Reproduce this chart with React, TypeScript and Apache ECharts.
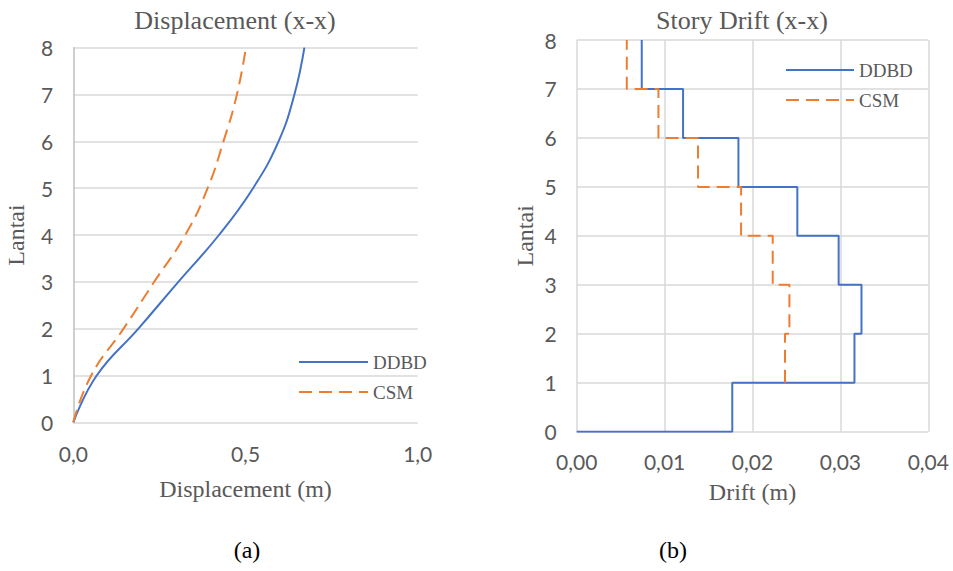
import React, { useEffect, useRef } from "react";
import * as echarts from "echarts";

// Floors (Lantai)
const floors = [0, 1, 2, 3, 4, 5, 6, 7, 8];
// Displacement (m) at each floor
const ddbdDisp = [0, 0.068, 0.189, 0.305, 0.423, 0.522, 0.596, 0.642, 0.671];
const csmDisp = [0, 0.052, 0.146, 0.235, 0.325, 0.39, 0.436, 0.475, 0.501];
// Story drift (m) per story
const ddbdDriftStories = [1, 2, 3, 4, 5, 6, 7, 8];
const ddbdDrift = [0.0177, 0.0316, 0.0324, 0.0298, 0.0251, 0.0184, 0.0121, 0.0074];
const csmDriftStories = [2, 3, 4, 5, 6, 7, 8];
const csmDrift = [0.0237, 0.0242, 0.0223, 0.0187, 0.0138, 0.0093, 0.0057];

const dispXTicks = { min: 0, max: 1, interval: 0.5 };
const driftXTicks = { min: 0, max: 0.04, interval: 0.01 };
const floorTicks = { min: 0, max: 8, interval: 1 };

const BLUE = "#4472C4";
const ORANGE = "#ED7D31";
const GRID = "#d9d9d9";
const TEXT = "#595959";
const SERIF = "'Liberation Serif', 'Times New Roman', serif";
const SANS = "Lato, 'Noto Sans', sans-serif";

function stepPoints(stories: number[], drifts: number[], withBase: boolean) {
  const pts: number[][] = [];
  if (withBase) pts.push([0, stories[0] - 1]);
  stories.forEach((s, i) => {
    pts.push([drifts[i], s - 1]);
    pts.push([drifts[i], s]);
  });
  return pts;
}

export default function App() {
  const ref = useRef<HTMLDivElement>(null);
  useEffect(() => {
    if (!ref.current) return;
    const chart = echarts.init(ref.current, undefined, { renderer: "svg" });
    const yAxisCommon = {
      type: "value" as const,
      ...floorTicks,
      name: "Lantai",
      nameLocation: "middle" as const,
      nameRotate: 90,
      nameTextStyle: { fontFamily: SERIF, fontSize: 24, color: TEXT },
      axisTick: { show: false },
      axisLabel: { fontFamily: SANS, fontSize: 21, color: TEXT, margin: 20 },
      splitLine: { show: true, lineStyle: { color: GRID, width: 1.5 } },
    };
    const legendCommon = {
      orient: "vertical" as const,
      padding: 0,
      itemHeight: 14,
      itemGap: 10,
      selectedMode: false,
      data: ["DDBD", "CSM"],
      itemStyle: { opacity: 0 },
      textStyle: { fontFamily: SERIF, fontSize: 19, lineHeight: 20, color: TEXT },
    };
    chart.setOption({
      animation: false,
      title: [
        {
          text: "Displacement (x-x)",
          left: 235,
          top: 7,
          padding: 0,
          textAlign: "center",
          textStyle: { fontFamily: SERIF, fontSize: 26, fontWeight: "normal", color: TEXT },
        },
        {
          text: "Story Drift (x-x)",
          left: 742,
          top: 7,
          padding: 0,
          textAlign: "center",
          textStyle: { fontFamily: SERIF, fontSize: 26, fontWeight: "normal", color: TEXT },
        },
        {
          text: "(a)",
          left: 247,
          top: 538,
          padding: 0,
          textAlign: "center",
          textStyle: { fontFamily: SERIF, fontSize: 24, fontWeight: "normal", color: "#000" },
        },
        {
          text: "(b)",
          left: 673,
          top: 538,
          padding: 0,
          textAlign: "center",
          textStyle: { fontFamily: SERIF, fontSize: 24, fontWeight: "normal", color: "#000" },
        },
      ],
      legend: [
        { ...legendCommon, left: 298, top: 352, itemWidth: 69 },
        { ...legendCommon, left: 785, top: 60, itemWidth: 68 },
      ],
      grid: [
        { left: 73.3, top: 47.7, width: 344.4, height: 374.6 },
        { left: 576.7, top: 40, width: 351.6, height: 391.7 },
      ],
      xAxis: [
        {
          gridIndex: 0,
          type: "value",
          ...dispXTicks,
          name: "Displacement (m)",
          nameLocation: "middle",
          nameGap: 55,
          nameTextStyle: { fontFamily: SERIF, fontSize: 24, color: TEXT },
          axisLine: { show: false },
          axisTick: { show: false },
          splitLine: { show: false },
          axisLabel: {
            fontFamily: SANS,
            fontSize: 21,
            color: TEXT,
            margin: 21,
            formatter: (v: number) => v.toFixed(1).replace(".", ","),
          },
        },
        {
          gridIndex: 1,
          type: "value",
          ...driftXTicks,
          name: "Drift (m)",
          nameLocation: "middle",
          nameGap: 48,
          nameTextStyle: { fontFamily: SERIF, fontSize: 24, color: TEXT },
          axisLine: { show: false },
          axisTick: { show: false },
          splitLine: { show: true, lineStyle: { color: GRID, width: 1.5 } },
          axisLabel: {
            fontFamily: SANS,
            fontSize: 21,
            color: TEXT,
            margin: 19,
            formatter: (v: number) => v.toFixed(2).replace(".", ","),
          },
        },
      ],
      yAxis: [
        {
          gridIndex: 0,
          ...yAxisCommon,
          nameGap: 45,
          axisLine: { show: true, lineStyle: { color: "#bfbfbf", width: 1.5 } },
        },
        {
          gridIndex: 1,
          ...yAxisCommon,
          nameGap: 40,
          axisLine: { show: false },
        },
      ],
      series: [
        {
          name: "DDBD",
          type: "line",
          xAxisIndex: 0,
          yAxisIndex: 0,
          smooth: 0.45,
          symbol: "none",
          data: ddbdDisp.map((d, i) => [d, floors[i]]),
          lineStyle: { color: BLUE, width: 2 },
          itemStyle: { color: BLUE },
        },
        {
          name: "CSM",
          type: "line",
          xAxisIndex: 0,
          yAxisIndex: 0,
          smooth: 0.5,
          symbol: "none",
          data: csmDisp.map((d, i) => [d, floors[i]]),
          lineStyle: { color: ORANGE, width: 2, type: [13, 7] },
          itemStyle: { color: ORANGE },
        },
        {
          name: "DDBD",
          type: "line",
          xAxisIndex: 1,
          yAxisIndex: 1,
          symbol: "none",
          data: stepPoints(ddbdDriftStories, ddbdDrift, true),
          lineStyle: { color: BLUE, width: 2 },
          itemStyle: { color: BLUE },
        },
        {
          name: "CSM",
          type: "line",
          xAxisIndex: 1,
          yAxisIndex: 1,
          symbol: "none",
          data: stepPoints(csmDriftStories, csmDrift, false),
          lineStyle: { color: ORANGE, width: 2, type: [13, 7] },
          itemStyle: { color: ORANGE },
        },
      ],
    });
    return () => chart.dispose();
  }, []);
  return (
    <div
      ref={ref}
      style={{ position: "fixed", left: 0, top: 0, width: 953, height: 571, background: "#fff" }}
    />
  );
}
